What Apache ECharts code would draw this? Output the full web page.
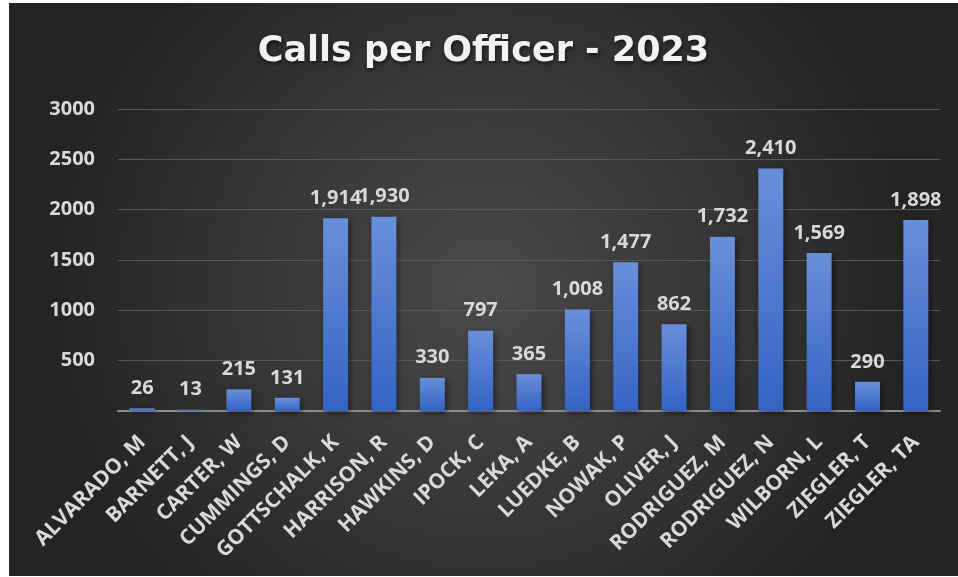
<!DOCTYPE html>
<html>
<head>
<meta charset="utf-8">
<script src="https://cdn.jsdelivr.net/npm/echarts@6/dist/echarts.min.js"></script>
<style>
html,body{margin:0;padding:0;background:#fff;}
#chart{position:absolute;left:9px;top:3px;width:949px;height:573px;}
</style>
</head>
<body>
<div id="chart"></div>
<script>
var officers=['ALVARADO, M','BARNETT, J','CARTER, W','CUMMINGS, D','GOTTSCHALK, K','HARRISON, R','HAWKINS, D','IPOCK, C','LEKA, A','LUEDKE, B','NOWAK, P','OLIVER, J','RODRIGUEZ, M','RODRIGUEZ, N','WILBORN, L','ZIEGLER, T','ZIEGLER, TA'];
var calls=[26,13,215,131,1914,1930,330,797,365,1008,1477,862,1732,2410,1569,290,1898];

var font='"Open Sans", "DejaVu Sans", sans-serif';
var myChart=echarts.init(document.getElementById('chart'));
var option={
	backgroundColor:new echarts.graphic.RadialGradient(0.5,0.5,0.75,[
		{offset:0,color:'#4a4a4a'},
		{offset:1,color:'#242424'}
	]),
	title:{
		text:'Calls per Officer - 2023',
		left:'center',
		top:26,
		textStyle:{
			color:'#f2f2f2',
			fontFamily:'"DejaVu Sans", sans-serif',
			fontWeight:'bold',
			fontSize:35,
			textShadowColor:'rgba(0,0,0,0.6)',
			textShadowBlur:4,
			textShadowOffsetX:1,
			textShadowOffsetY:2
		}
	},
	grid:{
		left:109,
		right:18,
		top:106,
		bottom:165
	},
	xAxis:{
		type:'category',
		data:officers,
		axisLine:{lineStyle:{color:'#8c8c8c',width:2}},
		axisTick:{show:false},
		axisLabel:{
			interval:0,
			rotate:45,
			margin:28,
			color:'#d9d9d9',
			fontFamily:font,
			fontWeight:'bold',
			fontSize:21
		}
	},
	yAxis:{
		type:'value',
		min:0,
		max:3000,
		interval:500,
		axisLine:{show:false},
		axisTick:{show:false},
		splitLine:{lineStyle:{color:'#5a5a5a',width:1}},
		axisLabel:{
			margin:23,
			color:'#d9d9d9',
			fontFamily:font,
			fontWeight:'bold',
			fontSize:20,
			formatter:function(v){return v===0?'':v;}
		}
	},
	series:[{
		name:'Calls',
		type:'bar',
		data:calls,
		barWidth:25,
		itemStyle:{
			color:new echarts.graphic.LinearGradient(0,0,0,1,[
				{offset:0,color:'#6a8fd9'},
				{offset:1,color:'#3463c4'}
			]),
			shadowColor:'rgba(0,0,0,0.5)',
			shadowBlur:6,
			shadowOffsetX:2,
			shadowOffsetY:2
		},
		label:{
			show:true,
			position:'top',
			distance:10,
			color:'#d9d9d9',
			fontFamily:font,
			fontWeight:'bold',
			fontSize:20,
			formatter:function(p){return p.value.toLocaleString('en-US');}
		}
	}]
};
myChart.setOption(option);
</script>
</body>
</html>
